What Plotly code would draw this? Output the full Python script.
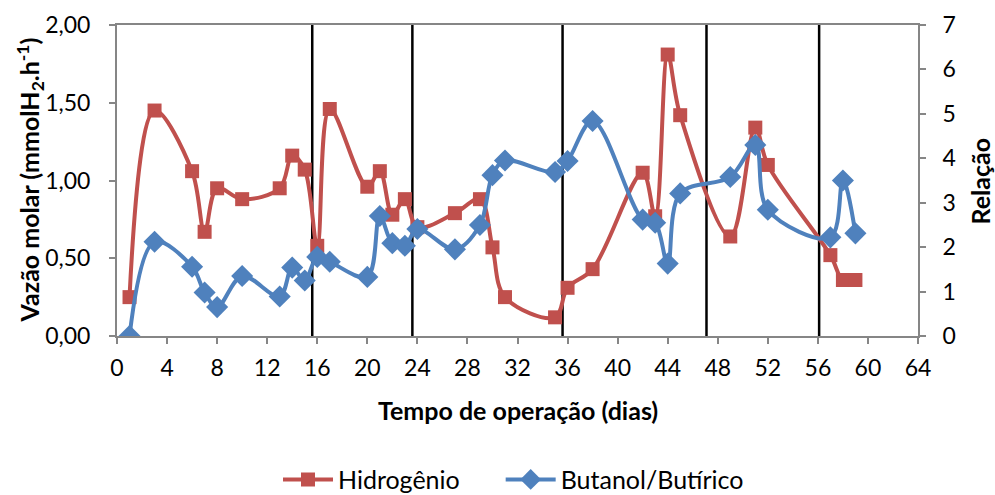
import plotly.graph_objects as go

# Dias de operação com amostragem
dias = [1, 3, 6, 7, 8, 10, 13, 14, 15, 16, 17, 20, 21, 22, 23, 24, 27, 29, 30,
        31, 35, 36, 38, 42, 43, 44, 45, 49, 51, 52, 57, 58, 59]

# Vazão molar de hidrogênio (mmolH2/h)
hidrogenio = [0.25, 1.45, 1.06, 0.67, 0.95, 0.88, 0.95, 1.16, 1.07, 0.58, 1.46,
              0.96, 1.06, 0.78, 0.88, 0.70, 0.79, 0.88, 0.57, 0.25, 0.12, 0.31,
              0.43, 1.05, 0.77, 1.81, 1.42, 0.64, 1.34, 1.10, 0.52, 0.36, 0.36]

# Relação butanol/butírico
butanol_butirico = [0.00, 2.12, 1.56, 0.98, 0.65, 1.35, 0.89, 1.54, 1.25, 1.78,
                    1.67, 1.33, 2.70, 2.09, 2.03, 2.41, 1.95, 2.50, 3.62, 3.95,
                    3.69, 3.94, 4.84, 2.62, 2.55, 1.63, 3.21, 3.58, 4.30, 2.84,
                    2.22, 3.50, 2.31]

# Mudanças de fase da operação (dias)
mudancas_fase = [15.6, 23.6, 35.6, 47.1, 56.1]

y1_ticks = [0, 0.5, 1.0, 1.5, 2.0]
y1_labels = ["0,00", "0,50", "1,00", "1,50", "2,00"]

VERMELHO = "#C0504D"
AZUL = "#4F81BD"
CINZA = "#868686"
FONTE = "Lato, 'Open Sans', sans-serif"
FONTE_TITULO = dict(family=FONTE, size=25, color="black")

fig = go.Figure()

fig.add_trace(go.Scatter(
    x=dias, y=hidrogenio, name="Hidrogênio", mode="lines+markers",
    line=dict(color=VERMELHO, width=4, shape="spline", smoothing=1.0),
    marker=dict(symbol="square", size=14, color=VERMELHO),
    yaxis="y", legend="legend",
))

fig.add_trace(go.Scatter(
    x=dias, y=butanol_butirico, name="Butanol/Butírico", mode="lines+markers",
    line=dict(color=AZUL, width=4, shape="spline", smoothing=1.0),
    marker=dict(symbol="diamond", size=17, color=AZUL),
    yaxis="y2", legend="legend2",
))

for d in mudancas_fase:
    fig.add_shape(type="line", xref="x", yref="paper", x0=d, x1=d, y0=0, y1=1,
                  line=dict(color="black", width=2.5), layer="below")

eixo = dict(showline=True, linecolor=CINZA, linewidth=2, ticks="outside",
            tickcolor=CINZA, ticklen=6, tickwidth=2, showgrid=False,
            zeroline=False, automargin=False,
            tickfont=dict(family=FONTE, size=23, color="black"))

legenda = dict(orientation="h", y=-0.462, yanchor="middle", xanchor="left",
               font=dict(family=FONTE, size=25), itemwidth=50)

fig.update_layout(
    width=995, height=495,
    margin=dict(l=117, r=77, t=25, b=159, autoexpand=False),
    plot_bgcolor="white", paper_bgcolor="white",
    font=dict(family=FONTE, color="black"),
    xaxis=dict(range=[0, 64], tickmode="linear", tick0=0, dtick=4,
               mirror=True, ticklabelstandoff=4, **eixo),
    yaxis=dict(range=[0, 2], tickvals=y1_ticks, ticktext=y1_labels,
               ticklabelstandoff=14, **eixo),
    yaxis2=dict(range=[0, 7], tickmode="linear", tick0=0, dtick=1,
                overlaying="y", side="right", ticklabelstandoff=12, **eixo),
    showlegend=True,
    legend=dict(x=0.201, **legenda),
    legend2=dict(x=0.479, **legenda),
    annotations=[
        dict(text="<b>Tempo de operação (dias)</b>", xref="paper", yref="paper",
             x=0.5, y=-0.238, xanchor="center", yanchor="middle",
             showarrow=False, font=FONTE_TITULO),
        dict(text="<b>Vazão molar (mmolH<sub>2</sub>.h<sup>-1</sup>)</b>",
             xref="paper", yref="paper", x=-0.1086, y=0.5, textangle=-90,
             xanchor="center", yanchor="middle", showarrow=False,
             font=FONTE_TITULO),
        dict(text="<b>Relação</b>", xref="paper", yref="paper", x=1.0774,
             y=0.5, textangle=-90, xanchor="center", yanchor="middle",
             showarrow=False, font=FONTE_TITULO),
    ],
)

fig.write_html("out.html")
